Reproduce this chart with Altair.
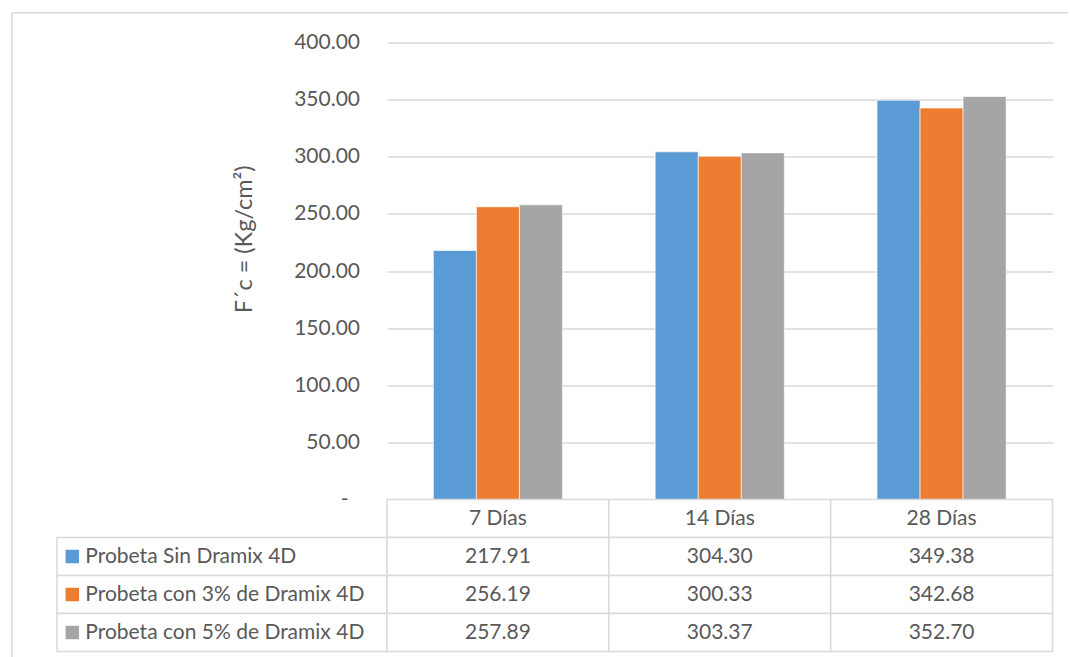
import altair as alt
import pandas as pd

# ---- data ----
days = ["7 Días", "14 Días", "28 Días"]
series = [
    "Probeta Sin Dramix 4D",
    "Probeta con 3% de Dramix 4D",
    "Probeta con 5% de Dramix 4D",
]
sin_dramix = [217.91, 304.30, 349.38]
con_3 = [256.19, 300.33, 342.68]
con_5 = [257.89, 303.37, 352.70]
colors = ["#5B9BD5", "#ED7D31", "#A5A5A5"]
y_ticks = [0, 50, 100, 150, 200, 250, 300, 350, 400]
y_title = "F´c = (Kg/cm²)"

# ---- styling ----
FONT = "Lato"
FS = 21
TXT = "#595959"
GRID = "#D9D9D9"
PW, PH = 665.5, 457     # plot area
LW = 330                # label column of the data table
TH = 152                # data table height
HEADER = "__header__"
row_domain = [HEADER] + series

rows = []
for s, vals in zip(series, [sin_dramix, con_3, con_5]):
    for d, v in zip(days, vals):
        rows.append({"dia": d, "serie": s, "valor": v})
df = pd.DataFrame(rows)

# ---- bar chart ----
bars = alt.Chart(df).mark_bar(stroke="white", strokeWidth=0.6).encode(
    x=alt.X("dia:N", sort=days,
            scale=alt.Scale(domain=days, paddingInner=0.418, paddingOuter=0.209),
            axis=None),
    xOffset=alt.XOffset("serie:N", sort=series,
                        scale=alt.Scale(domain=series, paddingInner=0, paddingOuter=0)),
    y=alt.Y("valor:Q",
            scale=alt.Scale(domain=[0, 400], nice=False, zero=True),
            axis=alt.Axis(
                values=y_ticks, format=".2f",
                labelExpr="datum.value == 0 ? '-' : datum.label",
                grid=True, gridColor=GRID, gridWidth=1.3,
                domain=False, ticks=False,
                labelPadding={"condition": {"test": "datum.value == 0", "value": 39},
                              "value": 27.5},
                labelFont=FONT, labelFontSize=FS, labelColor=TXT,
                title=y_title, titleFont=FONT, titleFontSize=23.5,
                titleFontWeight="normal", titleColor=TXT,
                titleX=-142.7, titleY=196.3, titleBaseline="middle",
                titleAlign="center", titleAngle=270,
            )),
    color=alt.Color("serie:N", scale=alt.Scale(domain=series, range=colors), legend=None),
).properties(width=PW, height=PH)

# ---- spacer with the chart-area frame (top and left edges) ----
frame_src = pd.DataFrame({"k": [0]})
frame_top = alt.Chart(frame_src).mark_rule(color=GRID, strokeWidth=1.5).encode(
    x=alt.value(-45.2), x2=alt.value(1011), y=alt.value(-29.7))
frame_left = alt.Chart(frame_src).mark_rule(color=GRID, strokeWidth=1.5).encode(
    x=alt.value(-45.2), y=alt.value(-29.7), y2=alt.value(620))
spacer = alt.layer(frame_top, frame_left).properties(width=LW, height=PH)

# ---- data table: value cells ----
trows = []
for d in days:
    trows.append({"dia": d, "fila": HEADER, "texto": d})
for s, vals in zip(series, [sin_dramix, con_3, con_5]):
    for d, v in zip(days, vals):
        trows.append({"dia": d, "fila": s, "texto": f"{v:.2f}"})
tdf = pd.DataFrame(trows)

tx = alt.X("dia:N", sort=days,
           scale=alt.Scale(domain=days, paddingInner=0, paddingOuter=0), axis=None)
ty = alt.Y("fila:N", sort=row_domain,
           scale=alt.Scale(domain=row_domain, paddingInner=0, paddingOuter=0), axis=None)

tbase = alt.Chart(tdf).encode(x=tx, y=ty)
tcells = tbase.mark_rect(fill="white", stroke=GRID, strokeWidth=1.5)
ttext = tbase.mark_text(font=FONT, fontSize=FS, color=TXT,
                        align="center", baseline="middle").encode(text="texto:N")
table_right = alt.layer(tcells, ttext).properties(width=PW, height=TH)

# ---- data table: series label column ----
ldf = pd.DataFrame({"col": ["serie"] * len(series), "fila": series})
lx = alt.X("col:N", scale=alt.Scale(paddingInner=0, paddingOuter=0), axis=None)
lx0 = alt.X("col:N", bandPosition=0, scale=alt.Scale(paddingInner=0, paddingOuter=0), axis=None)
lbase = alt.Chart(ldf)
lcells = lbase.mark_rect(fill="white", stroke=GRID, strokeWidth=1.5).encode(x=lx, y=ty)
lsq = lbase.mark_square(size=182, opacity=1, xOffset=15.3).encode(
    x=lx0, y=ty,
    color=alt.Color("fila:N", scale=alt.Scale(domain=series, range=colors), legend=None))
ltext = lbase.mark_text(font=FONT, fontSize=FS, color=TXT, align="left",
                        baseline="middle", dx=28.3).encode(x=lx0, y=ty, text="fila:N")
table_left = alt.layer(lcells, lsq, ltext).properties(width=LW, height=TH)

chart = alt.concat(
    spacer, bars, table_left, table_right,
    columns=2, spacing=0, bounds="flush",
).resolve_scale(
    x="independent", y="independent"
).configure(
    padding={"left": 11, "top": 11.5, "right": 0, "bottom": 0},
    font=FONT, background="white",
).configure_view(stroke=None)

chart.save("out.html", embed_options={"renderer": "svg", "actions": False})
